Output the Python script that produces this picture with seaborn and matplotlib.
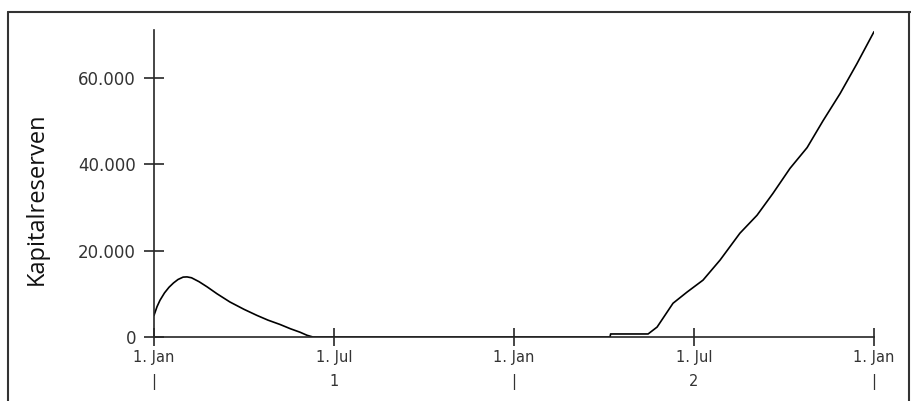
import matplotlib
matplotlib.use("Agg")
import matplotlib.pyplot as plt
import seaborn as sns
import pandas as pd
from matplotlib.lines import Line2D

# months since the first 1. Jan
months = [0, 0.1, 0.2, 0.35, 0.5, 0.65, 0.8, 0.97, 1.1, 1.25, 1.5, 1.77, 2.1, 2.53,
          3.0, 3.43, 3.8, 4.2, 4.55, 4.87, 5.1, 5.3,
          15.2, 15.22, 16.47, 16.77, 17.3, 17.77, 18.3, 18.87, 19.53, 20.1,
          20.63, 21.2, 21.77, 22.3, 22.87, 23.43, 24]
kapital = [5000, 7000, 8500, 10200, 11500, 12500, 13300, 13850, 13900, 13700, 12800,
           11600, 10000, 8100, 6400, 5000, 3900, 2900, 1900, 1100, 400, 0,
           0, 700, 700, 2300, 7800, 10400, 13150, 17800, 24000, 28150,
           33200, 39000, 43800, 50000, 56300, 63200, 70600]

x_ticks = [0, 6, 12, 18, 24]
x_labels = ["1. Jan\n|", "1. Jul\n1", "1. Jan\n|", "1. Jul\n2", "1. Jan\n|"]
y_ticks = [0, 20000, 40000, 60000]
y_labels = ["0", "20.000", "40.000", "60.000"]

df = pd.DataFrame({"Monat": months, "Kapitalreserven": kapital})

sns.set_style("ticks")
plt.rcParams["font.family"] = ["DejaVu Sans"]

fig = plt.figure(figsize=(9.11, 4.01), dpi=100)
ax = fig.add_axes([154 / 911, 1 - 337 / 401, 720 / 911, 307 / 401])

sns.lineplot(data=df, x="Monat", y="Kapitalreserven", estimator=None, sort=False,
             color="black", linewidth=1.2, ax=ax)

ax.set_xlim(0, 24)
ax.set_ylim(0, 71000)
ax.set_xticks(x_ticks)
ax.set_xticklabels(x_labels, fontsize=10.5, color="#333333", linespacing=1.75)
ax.set_yticks(y_ticks)
ax.set_yticklabels(y_labels, fontsize=12, color="#333333")
ax.set_xlabel("")
ax.set_ylabel("Kapitalreserven", fontsize=17, family="Open Sans", color="#111111")
ax.yaxis.set_label_coords(-0.146, 0.45)

ax.tick_params(axis="x", direction="inout", length=13, width=1.2, pad=3)
ax.tick_params(axis="y", direction="inout", length=14, width=1.2, pad=6)
sns.despine(ax=ax)
for s in ["left", "bottom"]:
    ax.spines[s].set_linewidth(1.2)

# outer frame (open at the bottom)
frame = dict(color="#333333", linewidth=1.5, transform=fig.transFigure)
fig.add_artist(Line2D([8 / 911, 8 / 911], [0, 1 - 12 / 401], **frame))
fig.add_artist(Line2D([8 / 911, 1], [1 - 12 / 401, 1 - 12 / 401], **frame))
fig.add_artist(Line2D([909 / 911, 909 / 911], [0, 1 - 12 / 401], **frame))

fig.savefig("out.png", dpi=100)
